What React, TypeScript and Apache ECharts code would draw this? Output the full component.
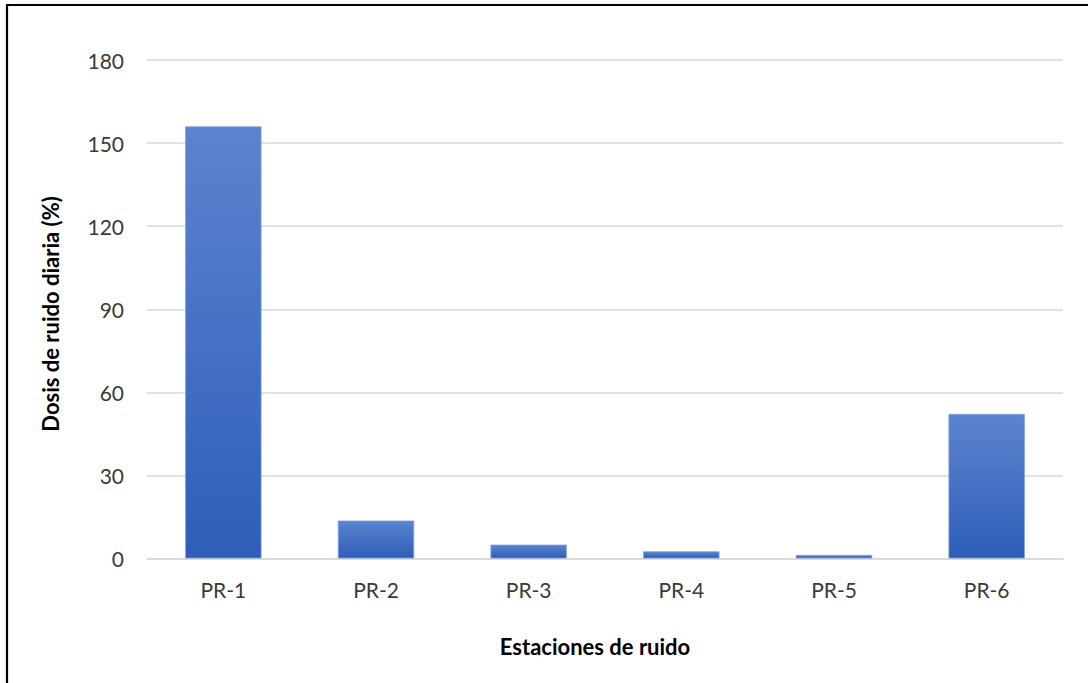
import React, { useEffect, useRef } from "react";
import * as echarts from "echarts";

const categories = ["PR-1", "PR-2", "PR-3", "PR-4", "PR-5", "PR-6"];
const dosis = [156, 13.7, 5, 2.6, 1.3, 52.2];
const yTicks = { min: 0, max: 180, interval: 30 };
const xTitle = "Estaciones de ruido";
const yTitle = "Dosis de ruido diaria (%)";

export default function App() {
  const ref = useRef<HTMLDivElement>(null);
  useEffect(() => {
    if (!ref.current) return;
    const chart = echarts.init(ref.current, null, { renderer: "svg" });
    const font = "Lato, 'Open Sans', sans-serif";
    chart.setOption({
      animation: false,
      backgroundColor: "#ffffff",
      grid: { left: 147, right: 25, top: 60, bottom: 124.5, containLabel: false },
      xAxis: {
        type: "category",
        data: categories,
        axisLine: { show: true, lineStyle: { color: "#d9d9d9", width: 1.5 } },
        axisTick: { show: false },
        axisLabel: { color: "#3a3a3a", fontSize: 21, fontFamily: font, margin: 20 },
      },
      yAxis: {
        type: "value",
        min: yTicks.min,
        max: yTicks.max,
        interval: yTicks.interval,
        axisLine: { show: false },
        axisTick: { show: false },
        axisLabel: { color: "#3a3a3a", fontSize: 21, fontFamily: font, margin: 23 },
        splitLine: { lineStyle: { color: "#d9d9d9", width: 1.5 } },
      },
      series: [
        {
          type: "bar",
          data: dosis,
          barWidth: "50%",
          itemStyle: {
            color: new echarts.graphic.LinearGradient(0, 0, 0, 1, [
              { offset: 0, color: "#5b84cf" },
              { offset: 1, color: "#2e5eb9" },
            ]),
            borderColor: "#7fa0dc",
            borderWidth: 0.8,
          },
        },
      ],
      graphic: [
        {
          type: "rect",
          shape: { x: 7, y: 5, width: 1200, height: 1000 },
          style: { fill: "none", stroke: "#000000", lineWidth: 2.2 },
          z: 100,
        },
        {
          type: "text",
          x: 595,
          y: 646,
          style: {
            text: xTitle,
            font: `bold 22px ${font}`,
            fill: "#000000",
            textAlign: "center",
            textVerticalAlign: "middle",
          },
        },
        {
          type: "text",
          x: 50,
          y: 314,
          rotation: Math.PI / 2,
          style: {
            text: yTitle,
            font: `bold 22px ${font}`,
            fill: "#000000",
            textAlign: "center",
            textVerticalAlign: "middle",
          },
        },
      ],
    });
    return () => chart.dispose();
  }, []);
  return (
    <div
      ref={ref}
      style={{ position: "absolute", left: 0, top: 0, width: 1088, height: 683 }}
    />
  );
}
